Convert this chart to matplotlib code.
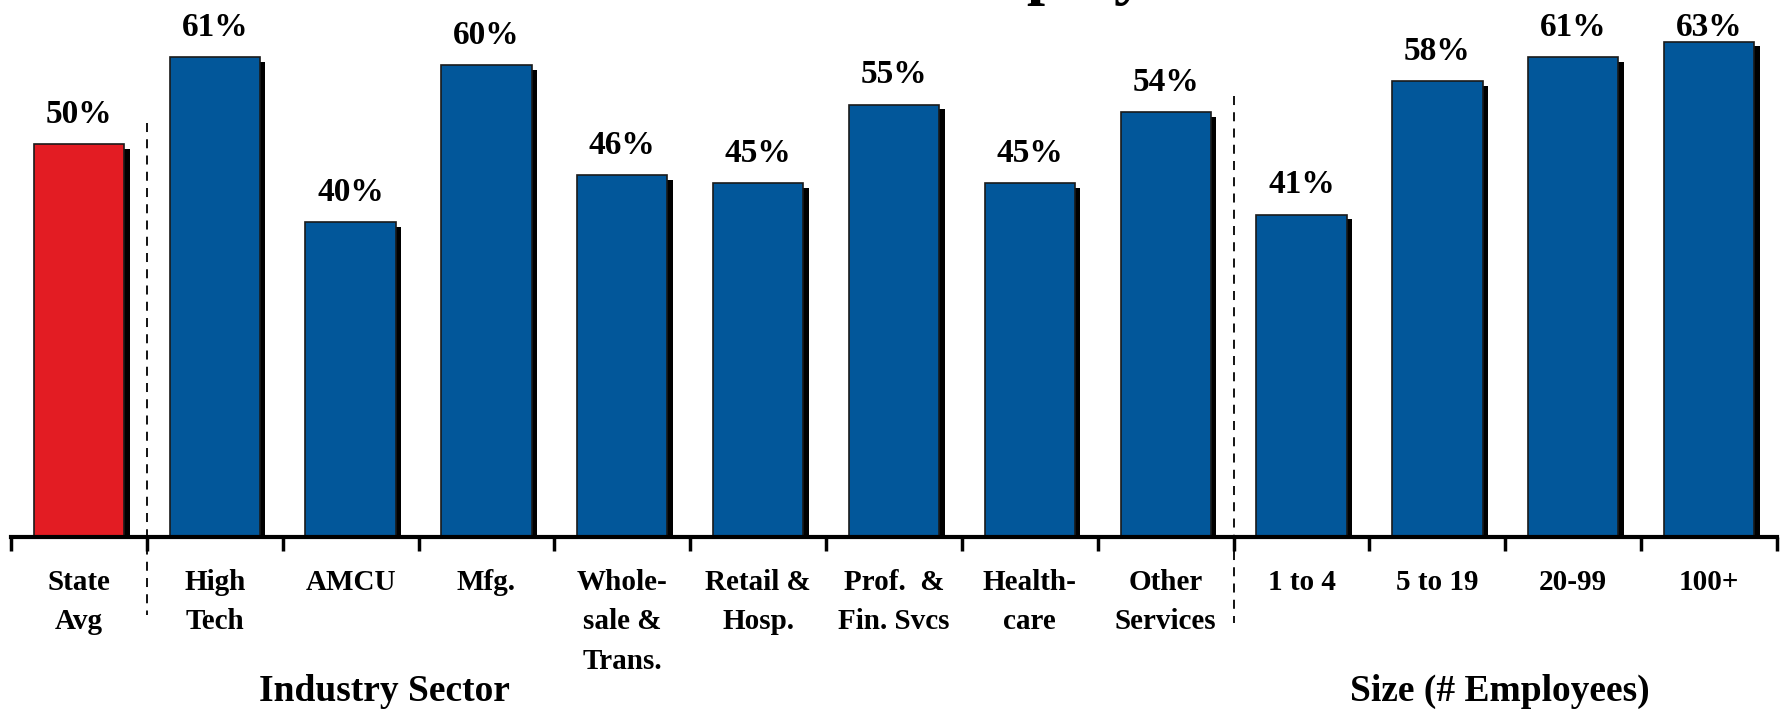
import matplotlib.pyplot as plt
import numpy as np

plt.rcParams['font.family'] = ['Liberation Serif', 'DejaVu Serif']
plt.rcParams['font.weight'] = 'bold'

# Data
labels = ['State\nAvg', 'High\nTech', 'AMCU', 'Mfg.', 'Whole-\nsale &\nTrans.',
          'Retail &\nHosp.', 'Prof.  &\nFin. Svcs', 'Health-\ncare', 'Other\nServices',
          '1 to 4', '5 to 19', '20-99', '100+']
values = [50, 61, 40, 60, 46, 45, 55, 45, 54, 41, 58, 61, 63]
colors = ['#E31C23'] + ['#02579A'] * 12

W, H = 1781, 709
fig = plt.figure(figsize=(W / 100, H / 100), dpi=100)
ax = fig.add_axes([11 / W, 0, 1766 / W, 1])

x = np.arange(len(values))
vals = np.array(values)
bw = 0.665

# shadows
ax.bar(x + 0.04, vals - 0.6, width=bw, color='black', zorder=2)
# bars
ax.bar(x, vals, width=bw, color=colors, edgecolor='#1a1a1a', linewidth=1.2, zorder=3)

# value labels (the tallest one is pushed down to stay inside the picture)
for xi, v in zip(x, values):
    ax.text(xi, min(v, 61) + 1.8, f'{v}%', ha='center', va='bottom', fontsize=24, fontweight='bold')

# separators
ax.plot([0.5, 0.5], [52.7, -10], color='black', lw=1.3, ls=(0, (5, 4)), zorder=1, clip_on=False)
ax.plot([8.5, 8.5], [56.1, -11], color='black', lw=1.3, ls=(0, (5, 4)), zorder=1, clip_on=False)

ax.set_xlim(-0.5, 12.5)
ax.set_ylim(-21.9, 68.3)

for s in ['top', 'left', 'right']:
    ax.spines[s].set_visible(False)
ax.spines['bottom'].set_position(('data', 0))
ax.spines['bottom'].set_linewidth(3)
ax.spines['bottom'].set_zorder(5)
ax.set_yticks([])

ax.set_xticks(x)
ax.set_xticklabels(labels, fontsize=21, fontweight='bold', linespacing=1.6)
ax.tick_params(axis='x', which='major', length=0, pad=23)
ax.set_xticks(np.arange(-0.5, 13, 1), minor=True)
ax.tick_params(axis='x', which='minor', length=10, width=2.5, direction='out')

ax.text(2.25, -19.7, 'Industry Sector', ha='center', va='center', fontsize=27, fontweight='bold')
ax.text(10.46, -19.7, 'Size (# Employees)', ha='center', va='center', fontsize=27, fontweight='bold')

# title, cut off at the top of the picture
fig.text(930 / W, 1 + 8 / H, 'Employer', ha='left', va='baseline', fontsize=47, fontweight='bold')

fig.savefig('out.png', dpi=100)
